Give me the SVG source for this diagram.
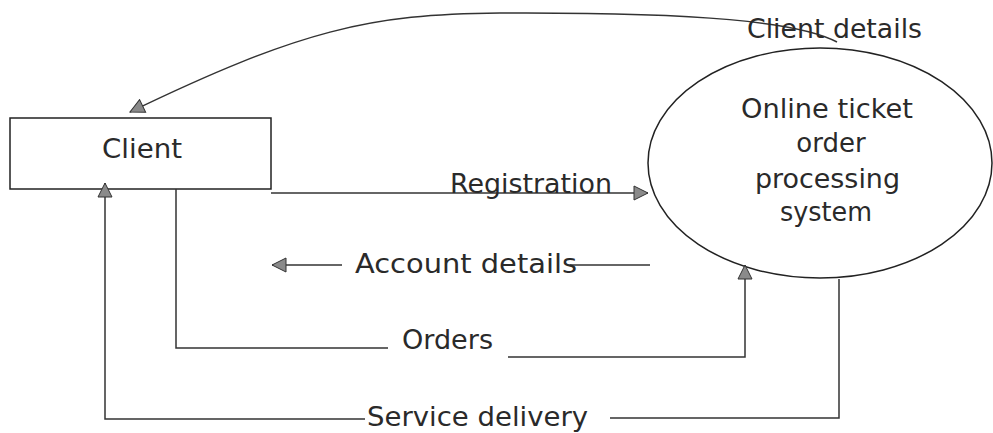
<svg xmlns="http://www.w3.org/2000/svg" width="993" height="433" viewBox="0 0 993 433">
  <style>
    .lbl { font-family: "DejaVu Sans", "Liberation Sans", sans-serif; font-size: 26px; fill: #2a2a2a; }
    .shape { fill: #fff; stroke: #222; stroke-width: 1.5; }
    .flow { fill: none; stroke: #333; stroke-width: 1.5; }
  </style>
  <defs>
    <marker id="arrow" markerUnits="userSpaceOnUse" markerWidth="16" markerHeight="16" viewBox="0 0 16 16" refX="15" refY="8" orient="auto">
      <path d="M1,1 L15,8 L1,15 Z" fill="#8a8a8a" stroke="#333" stroke-width="1"/>
    </marker>
  </defs>
  <rect width="993" height="433" fill="#fff"/>

  <!-- external entity -->
  <g id="client">
    <rect class="shape" x="10" y="118" width="261" height="71"/>
    <text class="lbl" x="102" y="158" textLength="80" lengthAdjust="spacingAndGlyphs">Client</text>
  </g>

  <!-- process -->
  <g id="system">
    <ellipse class="shape" cx="820" cy="163" rx="172" ry="115"/>
    <text class="lbl" x="741" y="118" textLength="172" lengthAdjust="spacingAndGlyphs">Online ticket</text>
    <text class="lbl" x="831" y="152" text-anchor="middle">order</text>
    <text class="lbl" x="755" y="188" textLength="145" lengthAdjust="spacingAndGlyphs">processing</text>
    <text class="lbl" x="780" y="221" textLength="92" lengthAdjust="spacingAndGlyphs">system</text>
  </g>

  <!-- data flows -->
  <g id="connectors">
    <path class="flow" d="M837 42 C800 22, 700 12, 500 13 C370 14, 300 30, 130 112" marker-end="url(#arrow)"/>
    <path class="flow" d="M271 193 H648" marker-end="url(#arrow)"/>
    <path class="flow" d="M650 265 H570"/>
    <path class="flow" d="M342 265 H272" marker-end="url(#arrow)"/>
    <path class="flow" d="M176 189 V348 H388"/>
    <path class="flow" d="M508 357 H745 V265" marker-end="url(#arrow)"/>
    <path class="flow" d="M839 279 V418 H610"/>
    <path class="flow" d="M365 419 H105 V183" marker-end="url(#arrow)"/>
  </g>

  <g id="flow-labels">
    <text class="lbl" x="747" y="38" textLength="175" lengthAdjust="spacingAndGlyphs">Client details</text>
    <text class="lbl" x="450" y="193" textLength="162" lengthAdjust="spacingAndGlyphs">Registration</text>
    <text class="lbl" x="355" y="273" textLength="222" lengthAdjust="spacingAndGlyphs">Account details</text>
    <text class="lbl" x="402" y="349" textLength="91" lengthAdjust="spacingAndGlyphs">Orders</text>
    <text class="lbl" x="367" y="426" textLength="221" lengthAdjust="spacingAndGlyphs">Service delivery</text>
  </g>
</svg>
